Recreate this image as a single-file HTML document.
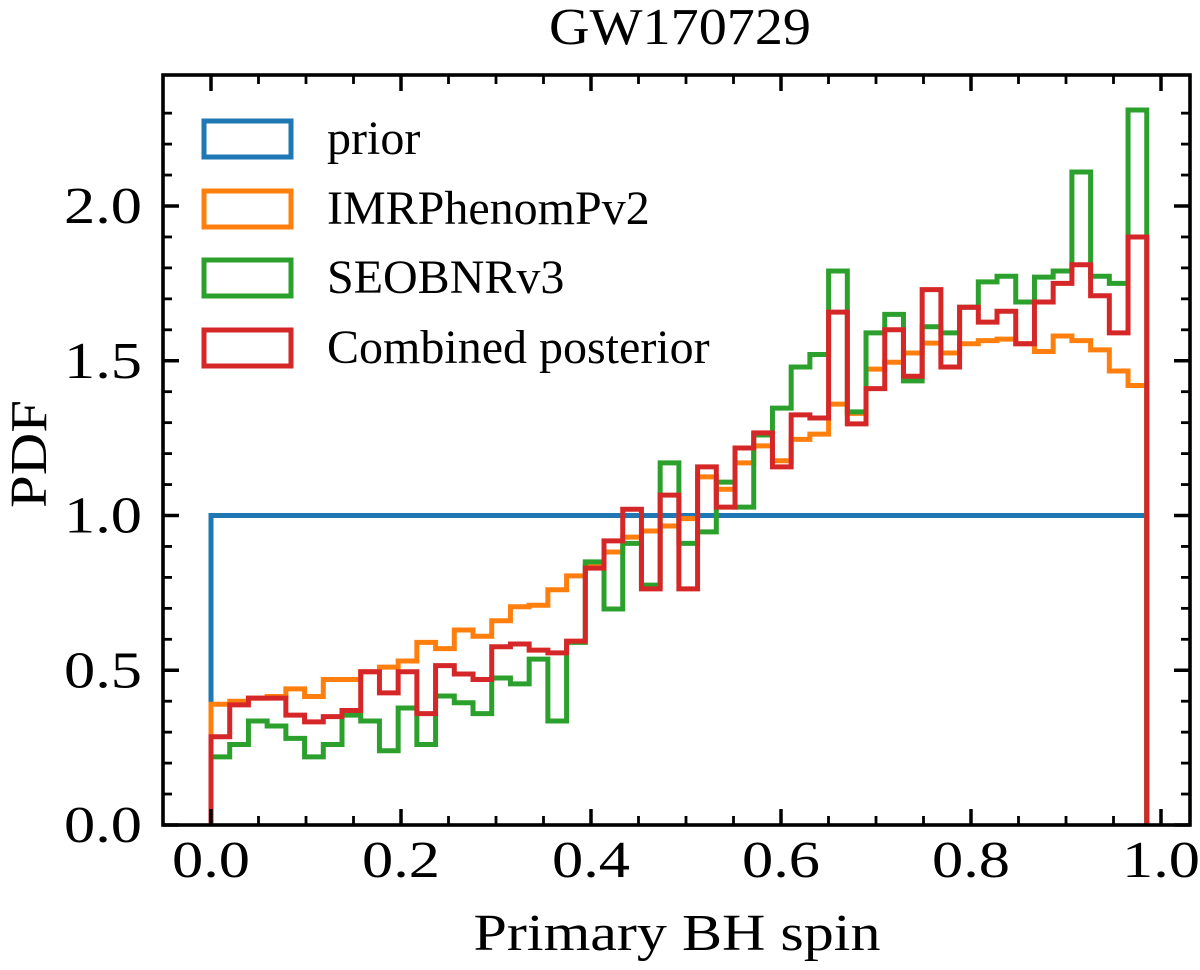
<!DOCTYPE html>
<html><head><meta charset="utf-8"><style>
html,body{margin:0;padding:0;background:#fff;}
svg{display:block;}
text{font-family:"Liberation Serif",serif;fill:#000;}
</style></head><body>
<svg id="chart" width="1200" height="970" viewBox="0 0 1200 970" xmlns="http://www.w3.org/2000/svg">
<text x="680" y="44" font-size="52" text-anchor="middle" textLength="262" lengthAdjust="spacingAndGlyphs">GW170729</text>
<text x="677" y="950" font-size="52" text-anchor="middle" textLength="407" lengthAdjust="spacingAndGlyphs">Primary BH spin</text>
<text transform="translate(46,454) rotate(-90)" font-size="52" text-anchor="middle" textLength="108" lengthAdjust="spacingAndGlyphs">PDF</text>
<g id="marks"></g>
<g id="axes"></g>
<g id="legend"></g>
</svg>
<script>
const binStart = 0.0;
const binEnd = 0.985;
const priorValue = [1.0];
const imrValues = [0.39,0.40,0.41,0.415,0.44,0.415,0.47,0.47,0.495,0.51,0.53,0.59,0.57,0.63,0.61,0.66,0.705,0.71,0.76,0.805,
0.84,0.882,0.93,0.95,0.966,0.99,1.125,1.085,1.17,1.225,1.177,1.246,1.263,1.36,
1.33,1.473,1.495,1.525,1.557,1.525,1.555,1.565,1.57,1.555,1.53,1.58,1.565,1.535,1.467,1.42];
const seobValues = [0.22,0.26,0.336,0.32,0.28,0.22,0.26,0.355,0.336,0.24,0.378,0.26,0.417,0.395,0.36,0.475,0.456,0.536,0.336,0.59,
0.85,0.698,0.91,0.775,1.17,0.91,0.947,1.108,1.027,1.26,1.347,1.48,1.52,1.79,1.335,
1.59,1.65,1.435,1.61,1.59,1.673,1.755,1.773,1.69,1.77,1.79,2.11,1.773,1.75,2.31];
const combinedValues = [0.285,0.388,0.41,0.41,0.355,0.333,0.35,0.37,0.495,0.427,0.495,0.36,0.515,0.488,0.47,0.576,0.585,0.565,0.556,0.594,
0.83,0.918,1.02,0.763,1.066,0.763,1.157,1.027,1.218,1.267,1.157,1.325,1.315,1.657,1.296,
1.41,1.60,1.45,1.73,1.48,1.673,1.625,1.66,1.555,1.69,1.75,1.81,1.71,1.59,1.90];
const xTicks = ["0.0","0.2","0.4","0.6","0.8","1.0"];
const yTicks = ["0.0","0.5","1.0","1.5","2.0"];
const legendLabels = ["prior","IMRPhenomPv2","SEOBNRv3","Combined posterior"];

const L=163,R=1190,T=75,B=825;
const xScale=v=>211+950*v;
const yScale=v=>825-309.5*v;
const NS="http://www.w3.org/2000/svg";
const marks=document.getElementById('marks');
const axes=document.getElementById('axes');
const legend=document.getElementById('legend');

function stepPath(vals){
  const n=vals.length, w=(binEnd-binStart)/n;
  let d=`M${xScale(binStart)},${yScale(0)}`;
  vals.forEach((v,i)=>{
    d+=` L${xScale(binStart+i*w)},${yScale(v)} L${xScale(binStart+(i+1)*w)},${yScale(v)}`;
  });
  d+=` L${xScale(binEnd)},${yScale(0)}`;
  return d;
}
const series=[[priorValue,'#1f77b4','prior-histogram'],[imrValues,'#ff7f0e','imrphenompv2-histogram'],[seobValues,'#2ca02c','seobnrv3-histogram'],[combinedValues,'#d62728','combined-posterior-histogram']];
series.forEach(s=>{
  const p=document.createElementNS(NS,'path');
  p.setAttribute('d',stepPath(s[0]));
  p.setAttribute('fill','none');p.setAttribute('stroke',s[1]);p.setAttribute('stroke-width','5');
  p.setAttribute('stroke-linejoin','miter');
  
  
  marks.appendChild(p);
});

function line(x1,y1,x2,y2,w){
  const l=document.createElementNS(NS,'line');
  l.setAttribute('x1',x1);l.setAttribute('y1',y1);l.setAttribute('x2',x2);l.setAttribute('y2',y2);
  l.setAttribute('stroke','#000');l.setAttribute('stroke-width',w);
  
  
  axes.appendChild(l);
}
for(let k=-1;k<=20;k++){const v=k*0.05;const x=xScale(v);if(x<L+2||x>R-2)continue;
  const maj=(k%4===0);const len=maj?16:9;
  line(x,B,x,B-len,maj?3.5:2.8);line(x,T,x,T+len,maj?3.5:2.8);}
for(let k=0;k<=23;k++){const v=k*0.1;const y=yScale(v);if(y<T+2)continue;
  const maj=(k%5===0);const len=maj?16:9;
  line(L,y,L+len,y,maj?3.5:2.8);line(R,y,R-len,y,maj?3.5:2.8);}
const frame=document.createElementNS(NS,'rect');
frame.setAttribute('x',L);frame.setAttribute('y',T);frame.setAttribute('width',R-L);frame.setAttribute('height',B-T);
frame.setAttribute('fill','none');frame.setAttribute('stroke','#000');frame.setAttribute('stroke-width','3.6');


axes.appendChild(frame);

xTicks.forEach(t=>{
  const tx=document.createElementNS(NS,'text');
  tx.setAttribute('x',xScale(parseFloat(t)));tx.setAttribute('y',877);
  tx.setAttribute('font-size','52');tx.setAttribute('text-anchor','middle');
  tx.setAttribute('textLength','78');tx.setAttribute('lengthAdjust','spacingAndGlyphs');
  tx.textContent=t;
  
  
  axes.appendChild(tx);
});
yTicks.forEach(t=>{
  const tx=document.createElementNS(NS,'text');
  tx.setAttribute('x',142);tx.setAttribute('y',yScale(parseFloat(t))+17);
  tx.setAttribute('font-size','52');tx.setAttribute('text-anchor','end');
  tx.setAttribute('textLength','78');tx.setAttribute('lengthAdjust','spacingAndGlyphs');
  tx.textContent=t;
  
  
  axes.appendChild(tx);
});

const legendY=[139,209,278,348];
legendLabels.forEach((lab,i)=>{
  const r=document.createElementNS(NS,'rect');
  r.setAttribute('x',204);r.setAttribute('y',legendY[i]-18);r.setAttribute('width',87);r.setAttribute('height',36);
  r.setAttribute('fill','none');r.setAttribute('stroke',series[i][1]);r.setAttribute('stroke-width','5');
  
  
  legend.appendChild(r);
  const tx=document.createElementNS(NS,'text');
  tx.setAttribute('x',327);tx.setAttribute('y',legendY[i]+15);tx.setAttribute('font-size','48');
  tx.textContent=lab;
  
  
  legend.appendChild(tx);
});
</script>
</body></html>
